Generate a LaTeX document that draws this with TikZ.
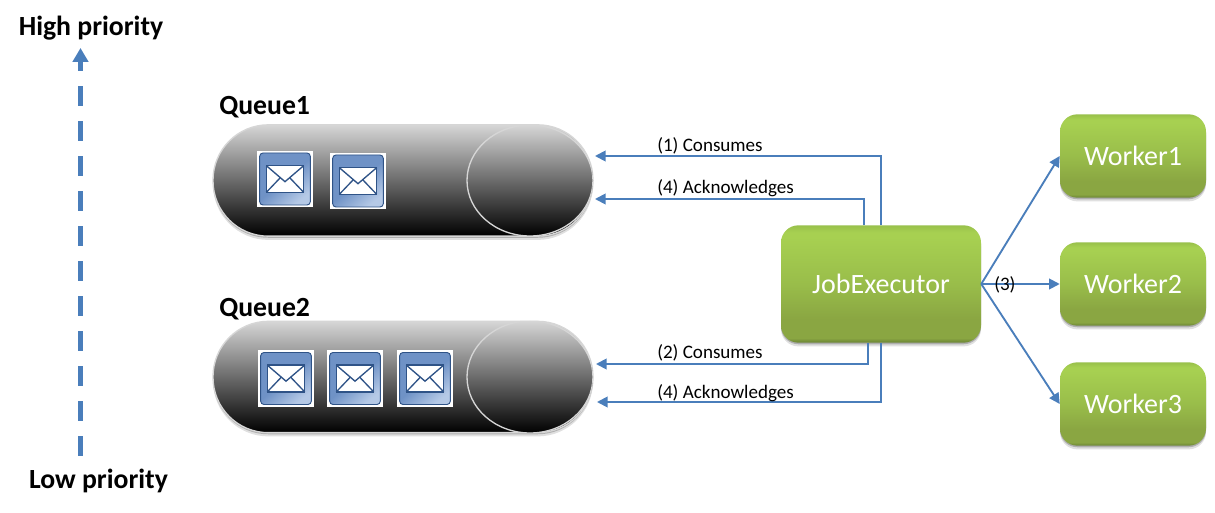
\documentclass[tikz,border=0pt]{standalone}
\usepackage{fontspec}
\setmainfont{Carlito}
\usetikzlibrary{arrows.meta,shadows,calc}
\definecolor{flow}{HTML}{4A7EBB}
\definecolor{rimgray}{HTML}{D6D6D6}
\definecolor{greenC}{HTML}{6A8334}
\definecolor{greenD}{HTML}{8AA642}
\definecolor{greenB}{HTML}{99BD4A}
\definecolor{greenA}{HTML}{A7D051}
\definecolor{greenT}{HTML}{98C04A}
\pgfdeclareverticalshading{greenbox}{100bp}{
  color(0bp)=(greenC);color(25bp)=(greenC);color(27bp)=(greenD);color(35bp)=(greenD);color(50bp)=(greenB);
  color(70bp)=(greenA);color(72bp)=(greenA);color(75bp)=(greenT);color(100bp)=(greenT)}
\pgfdeclareverticalshading{pillgrad}{100bp}{
  color(0bp)=(black);color(25bp)=(black);color(75bp)=(rimgray);color(100bp)=(rimgray)}
\definecolor{envD}{HTML}{2F5387}
\definecolor{envA}{HTML}{6F92C6}
\definecolor{envB}{HTML}{B5C9E6}
\tikzset{
  softshadow/.style={drop shadow={shadow xshift=0pt,shadow yshift=-1.2pt,opacity=.22,fill=black},
     drop shadow={shadow xshift=0pt,shadow yshift=-2.8pt,opacity=.12,fill=black}},
  greenstyle/.style={rectangle,rounded corners=13pt,shading=greenbox,text=white,
     font=\fontsize{21pt}{24pt}\selectfont,inner sep=0pt,softshadow},
  workerstyle/.style={greenstyle,minimum width=109.5pt,minimum height=62.5pt},
  pillstyle/.style={rectangle,rounded corners=41.5pt,shading=pillgrad,draw=rimgray,line width=1pt,
     minimum width=285pt,minimum height=83.5pt,inner sep=0pt,softshadow},
  endstyle/.style={draw=rimgray,line width=1pt},
  headlabel/.style={font=\bfseries\fontsize{20.8pt}{23pt}\selectfont,text=black,inner sep=0pt},
  flowlabel/.style={font=\fontsize{14.3pt}{16pt}\selectfont,text=black,inner sep=0pt,anchor=west},
  flowline/.style={draw=flow,line width=1.4pt,-{Triangle[length=8pt,width=8pt]}},
  priorityline/.style={draw=flow,line width=3.75pt,dash pattern=on 15pt off 11.25pt,-{Triangle[length=10.5pt,width=11.5pt]}}
}
\newcommand{\envelopeicon}[3]{%
  \node[fill=white,minimum width=42pt,minimum height=42.5pt,inner sep=0pt] (#1) at (#2,#3) {};
  \shade[left color=envA,right color=envB,middle color=envA,shading angle=40,draw=envD,line width=.7pt,rounded corners=2.5pt]
     ($(#1.center)+(-19pt,-19.5pt)$) rectangle ($(#1.center)+(19pt,19.5pt)$);
  \draw[fill=white,draw=envD,line width=1.2pt] ($(#1.center)+(-14pt,-10pt)$) rectangle ($(#1.center)+(14pt,10pt)$);
  \draw[envD,line width=1pt] ($(#1.center)+(-14pt,10pt)$) -- ($(#1.center)+(0pt,-2pt)$) -- ($(#1.center)+(14pt,10pt)$)
     ($(#1.center)+(-14pt,-10pt)$) -- ($(#1.center)+(-3.5pt,1pt)$)
     ($(#1.center)+(14pt,-10pt)$) -- ($(#1.center)+(3.5pt,1pt)$);
}
\begin{document}
\begin{tikzpicture}[x=0.75pt,y=-0.75pt]
\useasboundingbox (0,0) rectangle (1215,513);
\fill[white] (0,0) rectangle (1215,513);

% priority axis
\node[headlabel] (high) at (91,28) {High priority};
\node[headlabel] (low) at (98.5,481) {Low priority};
\coordinate (lowend) at (80.5,456);
\coordinate (highend) at (80.5,48);
\draw[priorityline] (lowend) -- (highend);

% queues
\node[headlabel,anchor=west] (q1label) at (219,107) {Queue1};
\node[headlabel,anchor=west] (q2label) at (219,309) {Queue2};
\node[pillstyle] (q1) at (403,180.5) {};
\node[pillstyle] (q2) at (403,377) {};
\begin{scope}
  \clip[rounded corners=41.5pt] (213,125) rectangle (593,236);
  \path[shading=pillgrad] (530,180.5) ellipse [x radius=63,y radius=55.5];
  \draw[endstyle] (530,180.5) ellipse [x radius=63,y radius=55.5];
\end{scope}
\begin{scope}
  \clip[rounded corners=41.5pt] (213,321) rectangle (593,433);
  \path[shading=pillgrad] (530,377) ellipse [x radius=63,y radius=56];
  \draw[endstyle] (530,377) ellipse [x radius=63,y radius=56];
\end{scope}

\envelopeicon{e1}{285}{179}
\envelopeicon{e2}{358}{181}
\envelopeicon{e3}{286}{378.5}
\envelopeicon{e4}{355}{378.5}
\envelopeicon{e5}{425}{378.5}

% boxes
\node[greenstyle,minimum width=150pt,minimum height=88pt] (job) at (881,284) {JobExecutor};
\node[workerstyle] (w1) at (1133,156) {Worker1};
\node[workerstyle] (w2) at (1133,284) {Worker2};
\node[workerstyle] (w3) at (1133,404) {Worker3};

% connectors
\coordinate (q1in) at (595,156);
\coordinate (q1ack) at (595,199);
\coordinate (q2in) at (596,364);
\coordinate (q2ack) at (597,402);
\coordinate (jobtopA) at ($(job.north)+(-17,0)$);
\coordinate (jobbotA) at ($(job.south)+(-13,0)$);
\draw[flowline] (job.north) |- (q1in);
\draw[flowline] (jobtopA) |- (q1ack);
\draw[flowline] (jobbotA) |- (q2in);
\draw[flowline] (job.south) |- (q2ack);
\draw[flowline] (job.east) -- (w1.west);
\draw[flowline] (job.east) -- (w2.west);
\draw[flowline] (job.east) -- (w3.west);

% labels
\node[flowlabel] (l1) at (657,146) {(1) Consumes};
\node[flowlabel] (l2) at (657,188) {(4) Acknowledges};
\node[flowlabel] (l3) at (657,353) {(2) Consumes};
\node[flowlabel] (l4) at (657,393) {(4) Acknowledges};
\node[flowlabel] (l5) at (994,285) {(3)};
\end{tikzpicture}
\end{document}
